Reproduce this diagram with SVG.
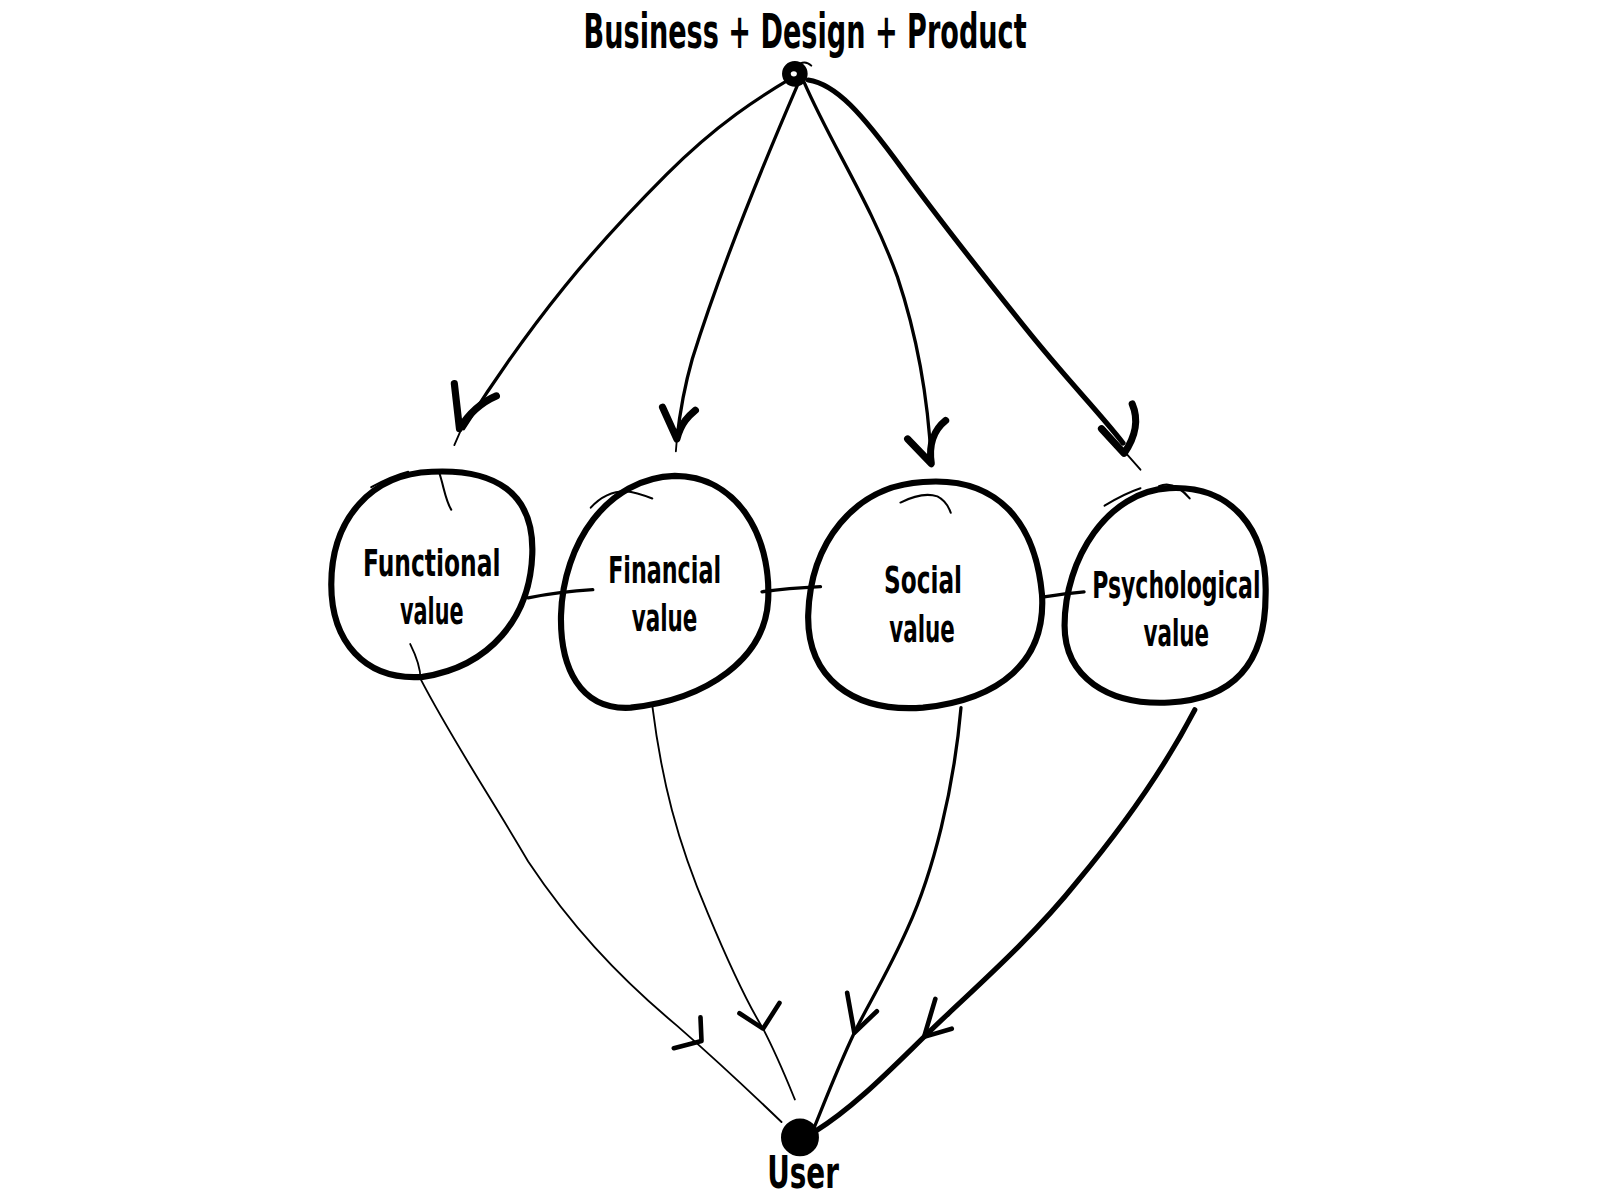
<svg xmlns="http://www.w3.org/2000/svg" width="1600" height="1200" viewBox="0 0 1600 1200">
<style>
.bg{fill:#ffffff}
.txt{font-family:"DejaVu Sans","Liberation Sans",sans-serif;font-stretch:condensed;font-weight:bold;fill:#000;text-anchor:middle}
.lbl{font-size:37px}
.ttl{font-size:46px}
.usr{font-size:44px}
.ring{fill:none;stroke:#000;stroke-width:6;stroke-linecap:round;stroke-linejoin:round}
.stray{fill:none;stroke:#000;stroke-width:2;stroke-linecap:round}
.dot{fill:#000;stroke:#000;stroke-width:3}
.thick{fill:none;stroke:#000;stroke-width:5;stroke-linecap:round;stroke-linejoin:round}
.mid{fill:none;stroke:#000;stroke-width:3.2;stroke-linecap:round;stroke-linejoin:round}
.thin{fill:none;stroke:#000;stroke-width:1.8;stroke-linecap:round;stroke-linejoin:round}
.head{fill:none;stroke:#000;stroke-width:7;stroke-linecap:round;stroke-linejoin:round}
.headt{fill:none;stroke:#000;stroke-width:4.5;stroke-linecap:round;stroke-linejoin:round}
</style>
<rect class="bg" x="0" y="0" width="1600" height="1200"/>
<g transform="scale(1.0256)">
<g id="connectors">
  <!-- top to values -->
  <path class="mid" d="M 772,76 C 740,95 700,120 650,170 C 580,240 520,310 452,418"/>
  <path class="head" d="M 443,374 L 448,418 C 458,402 470,392 484,386"/>
  <path class="thin" d="M 450,418 L 443,434"/>

  <path class="mid" d="M 778,82 C 740,170 700,270 675,350 C 665,385 662,410 660,428"/>
  <path class="head" d="M 646,397 L 660,428 C 664,412 672,405 678,400"/>
  <path class="thin" d="M 660,428 L 659,440"/>

  <path class="mid" d="M 784,80 C 810,140 850,200 875,270 C 895,330 905,390 908,450"/>
  <path class="head" d="M 885,428 L 908,452 C 905,432 912,418 922,410"/>

  <path class="thick" d="M 788,78 C 815,82 840,110 880,165 C 920,220 960,270 1000,320 C 1040,370 1070,400 1095,432"/>
  <path class="head" d="M 1074,418 L 1096,442 C 1108,425 1110,408 1104,394"/>
  <path class="thin" d="M 1098,442 L 1112,458"/>

  <!-- between values -->
  <path class="mid" d="M 515,583 C 540,578 560,576 578,575"/>
  <path class="mid" d="M 743,577 C 765,574 780,573 800,572"/>
  <path class="mid" d="M 1018,582 C 1030,580 1045,578 1057,577"/>

  <!-- values to user -->
  <path class="thin" d="M 400,628 C 406,640 410,650 410,662 C 440,720 480,780 515,840 C 555,900 600,950 660,1000 C 700,1035 735,1068 762,1094"/>
  <path class="headt" d="M 683,992 L 684,1015 L 657,1022"/>

  <path class="thin" d="M 636,688 C 645,760 660,820 690,890 C 715,950 730,980 744,1003 C 758,1030 766,1050 775,1072"/>
  <path class="headt" d="M 721,988 L 744,1003 L 760,978"/>

  <path class="mid" d="M 937,690 C 930,770 910,850 885,905 C 865,950 845,982 833,1007 C 815,1045 802,1080 792,1104"/>
  <path class="headt" d="M 826,968 L 833,1007 L 855,986"/>

  <path class="thick" d="M 1165,692 C 1140,740 1100,800 1050,860 C 1010,910 960,955 925,988 C 880,1030 840,1075 795,1103"/>
  <path class="headt" d="M 912,974 L 901,1011 L 928,1003"/>
</g>

<g id="node-top">
  <circle class="dot" cx="775" cy="72" r="11"/>
  <ellipse cx="774" cy="72" rx="3" ry="2.5" fill="#fff"/>
  <path class="stray" d="M 780,62 C 784,60 788,61 791,64"/>
  <text class="txt ttl" x="785" y="47" textLength="432" lengthAdjust="spacingAndGlyphs">Business + Design + Product</text>
</g>

<g id="node-functional">
  <path class="ring" d="M 421,460 C 482,457 521,480 519,540 C 517,602 478,650 412,660 C 355,664 323,625 323,570 C 323,505 363,462 421,460 Z"/>
  <path class="stray" d="M 362,475 C 375,468 386,463 398,460"/>
  <path class="stray" d="M 428,460 C 433,475 434,487 440,497"/>
  <text class="txt lbl" x="421" y="562" textLength="134" lengthAdjust="spacingAndGlyphs">Functional</text>
  <text class="txt lbl" x="421" y="608" textLength="62" lengthAdjust="spacingAndGlyphs">value</text>
</g>

<g id="node-financial">
  <path class="ring" d="M 658,464 C 717,464 752,520 749,585 C 746,642 690,682 615,690 C 565,693 546,650 547,600 C 549,530 592,466 658,464 Z"/>
  <path class="stray" d="M 576,495 C 586,484 598,479 610,479 C 620,480 628,483 636,486"/>
  <text class="txt lbl" x="648" y="568" textLength="110" lengthAdjust="spacingAndGlyphs">Financial</text>
  <text class="txt lbl" x="648" y="615" textLength="64" lengthAdjust="spacingAndGlyphs">value</text>
</g>

<g id="node-social">
  <path class="ring" d="M 900,470 C 975,464 1010,512 1016,580 C 1020,645 975,682 900,690 C 830,695 787,660 788,600 C 790,530 832,474 900,470 Z"/>
  <path class="stray" d="M 878,490 C 892,483 905,481 914,484 C 922,488 925,494 927,500"/>
  <text class="txt lbl" x="900" y="578" textLength="76" lengthAdjust="spacingAndGlyphs">Social</text>
  <text class="txt lbl" x="899" y="626" textLength="64" lengthAdjust="spacingAndGlyphs">value</text>
</g>

<g id="node-psychological">
  <path class="ring" d="M 1140,476 C 1200,473 1236,515 1234,580 C 1234,650 1200,682 1140,685 C 1080,688 1038,660 1038,610 C 1038,545 1080,479 1140,476 Z"/>
  <path class="stray" d="M 1077,493 C 1090,485 1100,480 1112,476"/>
  <path class="stray" d="M 1130,474 C 1140,470 1150,474 1160,486"/>
  <text class="txt lbl" x="1147" y="583" textLength="164" lengthAdjust="spacingAndGlyphs">Psychological</text>
  <text class="txt lbl" x="1147" y="630" textLength="64" lengthAdjust="spacingAndGlyphs">value</text>
</g>

<g id="node-user">
  <circle class="dot" cx="780" cy="1109" r="17"/>
  <text class="txt usr" x="783" y="1158" textLength="70" lengthAdjust="spacingAndGlyphs">User</text>
</g>
</g>
</svg>
